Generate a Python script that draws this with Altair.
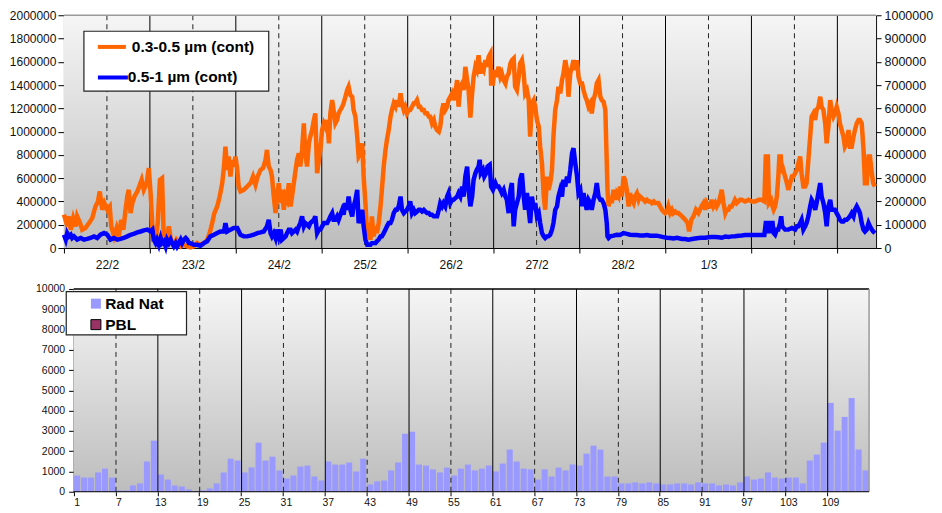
import altair as alt
import pandas as pd

FONT = "Liberation Sans"

# ---------------- top panel data ----------------
SERIES = ["0.3-0.5 µm (cont)", "0.5-1 µm (cont)"]
SERIES_COLORS = ["#ff6600", "#0000ff"]
DAY_LABELS = ["22/2", "23/2", "24/2", "25/2", "26/2", "27/2", "28/2", "1/3"]
DAY_BOUNDS_H = [24, 48, 72, 96, 120, 144, 168, 192, 216]
NOON_H = [12, 36, 60, 84, 108, 132, 156, 180, 204]
X_END_H = 226.8

# hours since 22/2 00:00, values in thousands
ORANGE_H = [0.0, 0.7, 1.4, 1.9, 2.6, 3.3, 3.7, 4.5, 5.1, 6.0, 7.0, 7.9, 8.8, 9.5, 10.0, 10.7, 11.3, 12.1, 12.8, 13.2,
            14.0, 14.7, 15.3, 16.0, 16.6, 17.2, 17.7, 18.1, 18.6, 19.1, 19.7, 20.5, 21.2, 21.7, 22.3, 23.1, 23.7, 24.2,
            24.9, 25.6, 26.2, 26.8, 27.4, 27.9, 28.7, 29.3, 30.0, 30.7, 31.4, 32.1, 32.7, 33.5, 34.4, 35.3, 36.3, 37.2,
            38.1, 39.1, 40.0, 40.7, 41.4, 42.0, 42.8, 43.5, 44.2, 44.7, 45.1, 45.6, 46.0, 46.5, 47.0, 47.4, 47.9, 48.4,
            48.8, 49.3, 50.2, 51.2, 52.1, 52.8, 53.5, 54.1, 54.9, 55.6, 56.3, 56.7, 57.2, 57.7, 58.1, 58.6, 59.1, 59.5,
            60.0, 60.5, 60.9, 61.4, 61.9, 62.3, 62.8, 63.3, 63.7, 64.2, 64.7, 65.1, 65.6, 66.0, 66.5, 67.0, 67.4, 67.9,
            68.4, 68.8, 69.3, 69.8, 70.2, 70.7, 71.2, 71.6, 72.1, 72.6, 73.0, 73.5, 74.0, 74.4, 74.9, 75.3, 75.8, 76.3,
            76.7, 77.2, 77.7, 78.1, 78.6, 79.1, 79.5, 80.0, 80.5, 80.9, 81.4, 81.9, 82.3, 82.8, 83.3, 83.7, 84.2, 84.7,
            85.1, 85.6, 86.0, 86.5, 87.0, 87.4, 87.9, 88.4, 88.8, 89.3, 89.8, 90.2, 90.7, 91.2, 91.6, 92.1, 92.6, 93.0,
            93.5, 94.0, 94.4, 94.9, 95.3, 95.8, 96.3, 96.7, 97.2, 97.7, 98.1, 98.6, 99.1, 99.5, 100.0, 100.5, 100.9,
            101.4, 101.9, 102.3, 102.8, 103.3, 103.7, 104.2, 104.7, 105.1, 105.6, 106.0, 106.5, 107.0, 107.4, 107.9,
            108.4, 108.8, 109.3, 109.8, 110.2, 110.7, 111.2, 111.6, 112.1, 112.6, 113.0, 113.5, 114.0, 114.4, 114.9,
            115.3, 115.8, 116.3, 116.7, 117.2, 117.7, 118.1, 118.6, 119.1, 119.3, 119.8, 120.2, 120.7, 121.4, 121.9,
            122.3, 122.8, 123.3, 123.7, 124.2, 124.7, 125.1, 125.6, 126.0, 126.5, 127.0, 127.4, 127.9, 128.4, 128.8,
            129.3, 129.8, 130.2, 130.7, 131.2, 131.6, 132.1, 132.6, 133.0, 133.5, 134.0, 134.4, 134.9, 135.3, 135.8,
            136.3, 136.7, 137.2, 137.7, 138.1, 138.6, 139.1, 139.5, 140.0, 140.5, 140.9, 141.4, 141.9, 142.3, 142.8,
            143.3, 143.7, 144.2, 144.7, 145.1, 145.6, 146.0, 146.5, 147.0, 147.4, 147.9, 148.4, 148.8, 149.3, 149.8,
            150.2, 150.7, 151.2, 151.4, 151.6, 151.8, 152.1, 152.6, 153.0, 153.5, 154.0, 154.4, 154.9, 155.3, 155.8,
            156.3, 156.7, 157.2, 157.7, 158.1, 158.6, 159.1, 159.5, 160.0, 160.5, 160.9, 161.4, 161.9, 162.3, 162.8,
            163.3, 163.7, 164.2, 164.7, 165.1, 165.6, 166.0, 166.5, 167.0, 167.4, 167.9, 168.4, 168.8, 169.3, 169.8,
            170.2, 170.7, 171.2, 171.6, 172.6, 173.5, 174.2, 174.6, 175.2, 175.8, 176.5, 177.2, 178.0, 178.6, 179.1,
            179.5, 180.0, 180.5, 180.9, 181.4, 181.9, 182.3, 182.8, 183.3, 183.7, 184.2, 184.7, 185.1, 185.6, 186.0,
            186.5, 187.0, 187.4, 187.9, 188.4, 188.8, 189.3, 190.2, 191.2, 192.1, 193.0, 194.0, 194.9, 195.6, 196.0,
            196.6, 196.9, 197.5, 197.9, 198.2, 198.6, 199.1, 199.5, 199.8, 200.2, 200.5, 200.9, 201.4, 201.9, 202.3,
            202.8, 203.3, 203.7, 204.2, 204.7, 205.1, 205.6, 206.0, 206.5, 207.0, 207.4, 207.9, 208.4, 208.8, 209.3,
            209.8, 210.2, 210.7, 211.2, 211.6, 212.1, 212.6, 213.0, 213.5, 214.0, 214.4, 214.9, 215.3, 215.8, 216.3,
            216.7, 217.2, 217.7, 218.1, 218.6, 219.1, 219.5, 220.0, 220.5, 220.9, 221.4, 221.9, 222.3, 222.8, 223.3,
            223.7, 224.2, 224.7, 225.1, 225.6, 226.0, 226.5]
ORANGE_K = [286, 214, 271, 157, 257, 186, 271, 214, 157, 171, 214, 257, 357, 400, 486, 329, 386, 329, 357, 186,
            100, 171, 100, 243, 157, 329, 443, 500, 300, 386, 443, 486, 543, 586, 500, 557, 686, 471,
            71, 71, 214, 586, 600, 71, 71, 186, 43, 29, 71, 43, 14, 29, 14, 5, 14, 43,
            29, 43, 71, 129, 214, 300, 357, 443, 557, 700, 871, 671, 786, 614, 757, 700, 786, 671,
            529, 486, 500, 529, 557, 614, 543, 614, 671, 686, 757, 843, 700, 671, 614, 443, 300, 443,
            557, 386, 500, 329, 443, 414, 557, 357, 443, 557, 671, 757, 814, 700, 843, 1071, 814, 700,
            900, 957, 1014, 1100, 1157, 643, 757, 843, 1014, 1071, 1043, 1100, 900, 1157, 1271, 1186, 1071, 1100,
            1157, 1186, 1214, 1243, 1300, 1357, 1386, 1314, 1300, 1186, 1129, 957, 786, 814, 900, 614, 386, 100,
            214, 71, 271, 100, 186, 129, 214, 357, 500, 700, 843, 929, 1014, 1129, 1186, 1243, 1214, 1271,
            1214, 1329, 1243, 1186, 1214, 1157, 1186, 1186, 1214, 1243, 1243, 1271, 1214, 1214, 1186, 1186, 1157,
            1157, 1129, 1129, 1071, 1100, 1043, 1014, 1000, 1043, 1186, 1243, 1186, 1214, 1271, 1300,
            1329, 1271, 1329, 1443, 1214, 1386, 1414, 1357, 1557, 1443, 1357, 1120, 1329, 1471, 1557,
            1529, 1657, 1500, 1557, 1529, 1614, 1557, 1643, 1671, 1414, 1414, 1529, 1471, 1557, 1471,
            1500, 1443, 1414, 1471, 1500, 1586, 1614, 1629, 1386, 1357, 1471, 1586, 1614, 1500, 1329,
            1357, 1271, 957, 1243, 1271, 1214, 1100, 1043, 871, 729, 443, 329, 614, 500, 557,
            671, 957, 1186, 1271, 1386, 1329, 1443, 1500, 1614, 1529, 1300, 1500, 1557, 1614, 1529,
            1614, 1471, 1414, 1414, 1357, 1300, 1271, 1214, 1243, 1157, 1271, 1329, 1414, 1443, 1300,
            1271, 1257, 1186, 957, 729, 500, 357, 443, 386, 500, 414, 471, 443, 529, 443,
            614, 586, 500, 357, 471, 414, 386, 443, 471, 414, 443, 429, 414, 400, 414,
            400, 400, 386, 400, 386, 386, 386, 357, 329, 314, 300, 314, 357, 300, 329,
            300, 314, 300, 300, 271, 243, 214, 143, 243, 271, 329, 300, 357, 386, 329,
            386, 357, 357, 414, 357, 386, 357, 386, 443, 500, 386, 300, 329, 329, 357,
            357, 386, 414, 386, 400, 414, 414, 400, 414, 400, 400, 414, 414, 400, 786,
            786, 386, 414, 357, 329, 357, 443, 614, 786, 786, 643, 671, 614, 557, 500,
            557, 614, 614, 643, 671, 729, 786, 643, 529, 529, 557, 757, 957, 1129, 1157,
            1100, 1186, 1214, 1300, 1214, 1186, 1071, 900, 1043, 1271, 1186, 1129, 1157, 1214, 1157,
            1071, 1014, 957, 871, 900, 1014, 871, 871, 957, 1014, 1071, 1100, 1100, 1071, 843,
            557, 557, 786, 786, 643, 557, 529]

BLUE_H = [0.0, 0.5, 0.9, 1.4, 1.9, 2.3, 2.8, 3.7, 4.7, 5.6, 6.5, 7.4, 8.4, 9.3, 10.2, 11.2, 12.1, 13.0, 14.0, 14.9,
          15.8, 16.7, 17.7, 18.6, 19.5, 20.5, 21.4, 22.3, 23.3, 24.2, 24.7, 25.1, 25.6, 26.0, 26.5, 27.0, 27.4, 27.9,
          28.4, 28.8, 29.3, 29.8, 30.2, 30.7, 31.2, 31.6, 32.1, 32.6, 33.0, 33.5, 34.0, 34.4, 34.9, 35.3, 36.3, 37.2,
          38.1, 39.1, 40.0, 40.9, 41.9, 42.8, 43.7, 44.7, 45.1, 45.6, 46.5, 47.4, 48.4, 49.3, 50.2, 51.2, 52.1, 53.0,
          54.0, 54.9, 55.8, 56.7, 57.2, 57.7, 58.1, 58.6, 59.1, 59.5, 60.0, 60.5, 60.9, 61.4, 61.9, 62.3, 62.8, 63.3,
          63.7, 64.2, 64.7, 65.1, 65.6, 66.0, 66.5, 67.0, 67.4, 67.9, 68.4, 68.8, 69.3, 69.8, 70.2, 70.7, 71.2, 71.6,
          72.1, 72.6, 73.0, 73.5, 74.0, 74.4, 74.9, 75.3, 75.8, 76.3, 76.7, 77.2, 77.7, 78.1, 78.6, 79.1, 79.5, 80.0,
          80.5, 80.9, 81.4, 81.9, 82.3, 82.8, 83.3, 83.7, 84.2, 84.7, 85.1, 85.6, 86.0, 86.5, 87.0, 87.4, 87.9, 88.4,
          88.8, 89.3, 89.8, 90.2, 90.7, 91.2, 91.6, 92.1, 92.6, 93.0, 93.5, 94.0, 94.4, 94.9, 95.3, 95.8, 96.3, 96.7,
          97.2, 97.7, 98.1, 98.6, 99.1, 99.5, 100.0, 100.5, 100.9, 101.4, 101.9, 102.3, 102.8, 103.3, 103.7, 104.2,
          104.7, 105.1, 105.6, 106.0, 106.5, 107.0, 107.4, 107.9, 108.4, 108.8, 109.3, 109.8, 110.2, 110.7, 111.2,
          111.6, 112.1, 112.6, 113.0, 113.5, 114.0, 114.4, 114.9, 115.3, 115.8, 116.1, 116.4, 117.0, 117.4, 117.9,
          118.3, 118.9, 119.3, 119.8, 120.5, 120.9, 121.4, 121.9, 122.3, 122.8, 123.3, 123.7, 124.2, 124.7, 125.1,
          125.6, 126.0, 126.5, 127.0, 127.4, 127.9, 128.4, 128.8, 129.3, 129.8, 130.2, 130.7, 131.2, 131.6, 132.1,
          132.6, 133.0, 133.5, 134.0, 134.4, 134.9, 135.3, 135.8, 136.3, 136.7, 137.2, 137.7, 138.1, 138.6, 139.1,
          139.5, 140.0, 140.5, 140.9, 141.4, 141.9, 142.3, 142.8, 143.3, 143.7, 144.2, 144.7, 145.1, 145.6, 146.0,
          146.5, 147.0, 147.4, 147.9, 148.4, 148.8, 149.3, 149.8, 150.2, 150.7, 151.2, 151.6, 151.8, 152.1, 152.6,
          153.5, 154.4, 155.3, 156.3, 157.2, 158.1, 159.1, 160.0, 160.9, 161.9, 162.8, 163.7, 164.7, 165.6, 166.5,
          167.4, 168.4, 169.3, 170.2, 171.2, 172.6, 173.5, 174.4, 175.4, 176.3, 177.2, 178.1, 179.1, 180.0, 180.9,
          181.9, 182.8, 183.7, 184.7, 185.6, 186.5, 187.4, 188.4, 189.3, 190.2, 192.1, 194.0, 195.6, 196.0, 196.6,
          196.9, 197.5, 197.9, 198.2, 198.6, 199.1, 199.5, 200.0, 200.3, 200.6, 201.4, 202.3, 203.3, 204.2, 204.7,
          205.1, 205.6, 206.0, 206.5, 207.0, 207.4, 207.9, 208.4, 208.8, 209.3, 209.8, 210.2, 210.7, 211.2, 211.6,
          212.1, 212.6, 213.0, 213.5, 214.0, 214.4, 214.9, 215.3, 215.8, 216.3, 216.7, 217.2, 217.7, 218.1, 218.6,
          219.1, 219.5, 220.0, 220.5, 220.9, 221.4, 221.9, 222.3, 222.8, 223.3, 223.7, 224.2, 224.7, 225.1, 225.6,
          226.0, 226.5]
BLUE_K = [57, 36, 64, 50, 57, 43, 50, 36, 43, 36, 39, 43, 50, 43, 57, 64, 57, 36, 43, 36,
          39, 43, 50, 57, 61, 67, 71, 76, 79, 71, 79, 36, 21, 36, 14, 43, 21, 29,
          7, 36, 21, 36, 21, 7, 21, 7, 21, 36, 21, 36, 43, 36, 21, 21, 14, 14,
          10, 21, 29, 50, 57, 64, 71, 71, 107, 71, 79, 86, 86, 57, 50, 50, 53, 57,
          64, 67, 71, 93, 121, 64, 50, 64, 43, 79, 50, 79, 36, 43, 50, 64, 79, 79,
          64, 71, 79, 71, 93, 107, 136, 93, 107, 100, 93, 107, 114, 121, 136, 64, 79, 79,
          93, 107, 107, 107, 121, 136, 150, 121, 121, 136, 121, 143, 164, 143, 193, 164, 221, 164,
          136, 179, 207, 250, 107, 136, 164, 93, 36, 14, 14, 14, 21, 21, 21, 29, 36, 50,
          50, 64, 79, 93, 107, 107, 121, 150, 164, 164, 179, 221, 164, 150, 157, 164, 179, 200,
          150, 164, 150, 157, 164, 164, 157, 164, 157, 150, 150, 143, 143, 136, 136, 136,
          164, 193, 179, 193, 179, 221, 236, 193, 207, 207, 214, 221, 236, 221, 264,
          221, 307, 350, 250, 179, 221, 293, 321, 336, 350, 379, 321, 336, 307, 321,
          350, 357, 264, 250, 279, 264, 264, 250, 236, 250, 221, 207, 150, 250, 279,
          93, 164, 193, 221, 293, 321, 221, 164, 236, 164, 107, 221, 164, 193, 136,
          150, 107, 64, 50, 43, 50, 50, 57, 79, 107, 164, 179, 221, 250, 221,
          293, 264, 307, 279, 336, 407, 429, 364, 307, 236, 250, 179, 236, 193, 164,
          207, 193, 164, 207, 236, 279, 221, 207, 207, 193, 164, 107, 50, 43, 50,
          53, 57, 56, 64, 61, 57, 56, 56, 54, 54, 56, 53, 53, 53, 50,
          47, 44, 43, 41, 44, 39, 39, 36, 39, 41, 43, 44, 44, 46, 47,
          47, 46, 44, 49, 47, 50, 51, 53, 54, 56, 56, 56, 56, 107, 107,
          64, 107, 107, 64, 57, 79, 79, 107, 136, 93, 79, 79, 86, 79, 93,
          93, 107, 121, 79, 93, 107, 136, 179, 207, 193, 164, 193, 236, 279, 221,
          193, 150, 93, 179, 207, 164, 164, 164, 150, 136, 121, 114, 114, 121, 121,
          129, 136, 150, 136, 164, 179, 164, 150, 107, 79, 71, 79, 107, 93, 79,
          71, 64]

# ---------------- bottom panel data ----------------
BAR_SERIES = ["Rad Nat", "PBL"]
BAR_COLORS = ["#9999ff", "#993366"]
BAR_IDX = list(range(1, 115))
RAD_NAT = [800, 700, 700, 950, 1140, 700, 65, 65, 310, 410, 1490, 2520, 850, 600, 310, 260, 115, 20, 65, 165,
           410, 950, 1630, 1540, 950, 1200, 2420, 1540, 1730, 1050, 650, 800, 1240, 1290, 750, 555, 1490, 1340,
           1340, 1440, 1000, 1630, 360, 510, 555, 1050, 1440, 2860, 2960, 1340, 1290, 1100, 950, 1190, 800, 1140,
           1340, 1050, 1140, 1290, 1000, 1390, 2080, 1490, 1140, 1100, 600, 1100, 750, 1190, 1050, 1340, 1290,
           1880, 2270, 2080, 750, 750, 410, 410, 460, 410, 460, 410, 360, 360, 410, 410, 360, 460, 410, 410, 310,
           360, 310, 460, 750, 600, 650, 950, 700, 650, 700, 700, 410, 1540, 1830, 2420, 4380, 3010, 3690, 4620,
           2080, 1050]
BAR_TICKS = [1, 7, 13, 19, 25, 31, 37, 43, 49, 55, 61, 67, 73, 79, 85, 91, 97, 103, 109]
BAR_DASHED = [7, 19, 31, 43, 55, 67, 79, 91, 103]
BAR_SOLID = [13, 25, 37, 49, 61, 73, 85, 97, 109]

# ---------------- geometry ----------------
W1, H1 = 813, 233
W2, H2 = 806, 203      # bottom view spans the same left edge as the top one
S2 = 9.7               # bottom plot area starts this far to the right of the shared left edge

grad = alt.LinearGradient(
    gradient="linear",
    stops=[alt.GradientStop(color="#f5f5f5", offset=0), alt.GradientStop(color="#bdbdbd", offset=1)],
    x1=0, x2=0, y1=0, y2=1,
)
one = pd.DataFrame({"z": [0]})

# ---------------- top chart ----------------
df_o = pd.DataFrame({"h": ORANGE_H, "v": [k * 1000 for k in ORANGE_K]})
df_b = pd.DataFrame({"h": BLUE_H, "v": [k * 1000 for k in BLUE_K]})
df_day = pd.DataFrame({"h": DAY_BOUNDS_H})
df_noon = pd.DataFrame({"h": NOON_H})

lab_arr = "[" + ",".join("'" + s + "'" for s in DAY_LABELS + ["", ""]) + "]"
label_expr = lab_arr + "[round(datum.value/24)]"

x_top = alt.X(
    "h:Q",
    scale=alt.Scale(domain=[0, X_END_H], nice=False, zero=False),
    axis=alt.Axis(values=[0] + DAY_BOUNDS_H, labelExpr=label_expr, labelOffset=43, title=None,
                  tickSize=5, labelPadding=7, labelFontSize=12, labelOverlap=False,
                  labelFlush=False, labelBound=False),
)

bg1 = alt.Chart(one).mark_rect(fill=grad).encode(
    x=alt.value(0), x2=alt.value(W1), y=alt.value(0), y2=alt.value(H1))
rules_day = alt.Chart(df_day).mark_rule(color="#000000", strokeWidth=1).encode(x=x_top)
rules_noon = alt.Chart(df_noon).mark_rule(color="#222222", strokeWidth=1, strokeDash=[5, 4]).encode(x=x_top)
top_border1 = alt.Chart(one).mark_rule(color="#9a9a9a", strokeWidth=1.5).encode(
    x=alt.value(0), x2=alt.value(W1), y=alt.value(0))

line_o = alt.Chart(df_o).mark_line(color=SERIES_COLORS[0], strokeWidth=4.5).encode(
    x=x_top,
    y=alt.Y("v:Q", scale=alt.Scale(domain=[0, 2000000], nice=False),
            axis=alt.Axis(orient="left", values=list(range(0, 2000001, 200000)), format="d", title=None,
                          tickSize=6, labelPadding=2, labelFontSize=12, minExtent=55)),
)
line_b = alt.Chart(df_b).mark_line(color=SERIES_COLORS[1], strokeWidth=4.5).encode(
    x=x_top,
    y=alt.Y("v:Q", scale=alt.Scale(domain=[0, 1000000], nice=False),
            axis=alt.Axis(orient="right", values=list(range(0, 1000001, 100000)), format="d", title=None,
                          tickSize=5, labelPadding=3, labelFontSize=12.5)),
)

leg1_box = alt.Chart(one).mark_rect(fill="white", stroke="#222222", strokeWidth=1.2).encode(
    x=alt.value(20), x2=alt.value(205), y=alt.value(16), y2=alt.value(76))
leg1_l1 = alt.Chart(one).mark_rule(color=SERIES_COLORS[0], strokeWidth=4).encode(
    x=alt.value(34), x2=alt.value(62), y=alt.value(31.7))
leg1_t1 = alt.Chart(one).mark_text(text=SERIES[0], align="left", baseline="middle", font=FONT,
                                    fontSize=15.5, fontWeight="bold", color="black").encode(
    x=alt.value(68), y=alt.value(31.7))
leg1_l2 = alt.Chart(one).mark_rule(color=SERIES_COLORS[1], strokeWidth=4).encode(
    x=alt.value(34), x2=alt.value(64), y=alt.value(62.3))
leg1_t2 = alt.Chart(one).mark_text(text=SERIES[1], align="left", baseline="middle", font=FONT,
                                    fontSize=15.5, fontWeight="bold", color="black").encode(
    x=alt.value(64), y=alt.value(62.3))

top = alt.layer(bg1, rules_day, rules_noon, top_border1, line_o, line_b,
                leg1_box, leg1_l1, leg1_t1, leg1_l2, leg1_t2).resolve_scale(y="independent").properties(
    width=W1, height=H1)

# ---------------- bottom chart ----------------
df_bar = pd.DataFrame({"i": BAR_IDX, "v": RAD_NAT})
df_dash = pd.DataFrame({"i": BAR_DASHED})
df_solid = pd.DataFrame({"i": BAR_SOLID})

x_scale2 = alt.Scale(domain=BAR_IDX, range=[S2, W2], paddingInner=0.14, paddingOuter=0.07)
x_axis2 = alt.Axis(values=BAR_TICKS, bandPosition=0, labelAngle=0, title=None, domain=False,
                   tickSize=4, labelPadding=2, labelFontSize=10.5)

bg2 = alt.Chart(one).mark_rect(fill=grad).encode(
    x=alt.value(S2), x2=alt.value(W2), y=alt.value(0), y2=alt.value(H2))
bars = alt.Chart(df_bar).mark_bar(color=BAR_COLORS[0]).encode(
    x=alt.X("i:O", scale=x_scale2, axis=x_axis2),
    y=alt.Y("v:Q", scale=alt.Scale(domain=[0, 10000], nice=False),
            axis=alt.Axis(values=list(range(0, 10001, 1000)), format="d", title=None, tickSize=5,
                          labelPadding=4, labelFontSize=10.5, offset=-S2)),
)
r_dash = alt.Chart(df_dash).mark_rule(color="#222222", strokeWidth=1, strokeDash=[5, 4]).encode(
    x=alt.X("i:O", scale=x_scale2, axis=x_axis2, bandPosition=0))
r_solid = alt.Chart(df_solid).mark_rule(color="#000000", strokeWidth=1).encode(
    x=alt.X("i:O", scale=x_scale2, axis=x_axis2, bandPosition=0))
top_border2 = alt.Chart(one).mark_rule(color="#000000", strokeWidth=1.5).encode(
    x=alt.value(S2), x2=alt.value(W2), y=alt.value(0))
right_border2 = alt.Chart(one).mark_rule(color="#9a9a9a", strokeWidth=1.5).encode(
    x=alt.value(W2), y=alt.value(0), y2=alt.value(H2))
base2 = alt.Chart(one).mark_rule(color="#000000", strokeWidth=1).encode(
    x=alt.value(S2), x2=alt.value(W2), y=alt.value(H2))

leg2_box = alt.Chart(one).mark_rect(fill="white", stroke="#222222", strokeWidth=1.2).encode(
    x=alt.value(2.3), x2=alt.value(122.7), y=alt.value(2.7), y2=alt.value(46))
leg2_s1 = alt.Chart(one).mark_rect(fill=BAR_COLORS[0]).encode(
    x=alt.value(27), x2=alt.value(37), y=alt.value(9.7), y2=alt.value(19.7))
leg2_t1 = alt.Chart(one).mark_text(text=BAR_SERIES[0], align="left", baseline="middle", font=FONT,
                                    fontSize=15.5, fontWeight="bold", color="black").encode(
    x=alt.value(41.3), y=alt.value(15))
leg2_s2 = alt.Chart(one).mark_rect(fill=BAR_COLORS[1], stroke="black", strokeWidth=1).encode(
    x=alt.value(27), x2=alt.value(37), y=alt.value(30.7), y2=alt.value(40.7))
leg2_t2 = alt.Chart(one).mark_text(text=BAR_SERIES[1], align="left", baseline="middle", font=FONT,
                                    fontSize=15.5, fontWeight="bold", color="black").encode(
    x=alt.value(41.3), y=alt.value(36))

bottom = alt.layer(bg2, bars, r_dash, r_solid, top_border2, right_border2, base2,
                   leg2_box, leg2_s1, leg2_t1, leg2_s2, leg2_t2).properties(width=W2, height=H2)

chart = alt.vconcat(top, bottom, spacing=11).properties(
    padding={"left": 0, "top": 0, "right": 0, "bottom": 0}
).configure_axis(
    labelFont=FONT, labelColor="#111111", domainColor="#000000", tickColor="#000000", grid=False,
    domainWidth=1, tickWidth=1,
).configure_view(stroke="transparent")

chart.save("out.html", embed_options={"renderer": "svg", "actions": False})
